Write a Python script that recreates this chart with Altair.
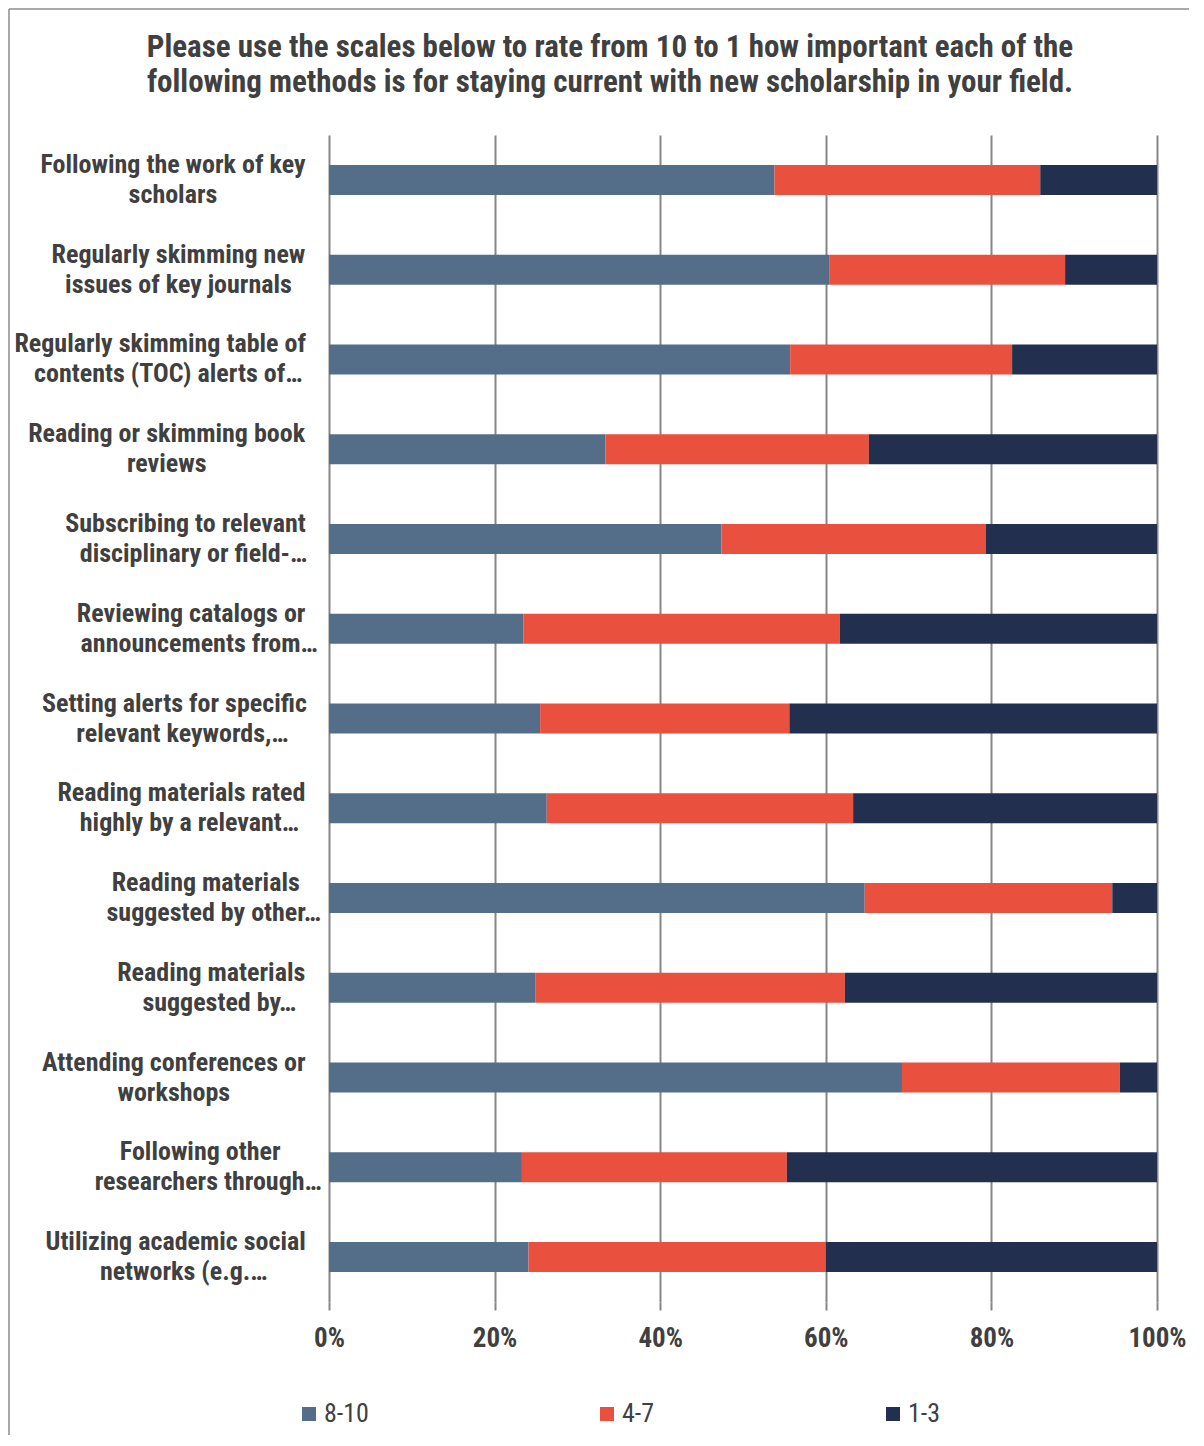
import altair as alt
import pandas as pd

categories = [
    "Following the work of key|scholars",
    "Regularly skimming new|issues of key journals",
    "Regularly skimming table of|contents (TOC) alerts of…",
    "Reading or skimming book|reviews",
    "Subscribing to relevant|disciplinary or field-…",
    "Reviewing catalogs or|announcements from…",
    "Setting alerts for specific|relevant keywords,…",
    "Reading materials rated|highly by a relevant…",
    "Reading materials|suggested by other…",
    "Reading materials|suggested by…",
    "Attending conferences or|workshops",
    "Following other|researchers through…",
    "Utilizing academic social|networks (e.g.…",
]
series = ["8-10", "4-7", "1-3"]
high = [53.8, 60.4, 55.7, 33.4, 47.4, 23.5, 25.5, 26.3, 64.7, 24.9, 69.2, 23.3, 24.1]
mid = [32.1, 28.5, 26.8, 31.8, 31.9, 38.2, 30.1, 37.0, 29.9, 37.4, 26.3, 32.0, 35.9]
low = [14.1, 11.1, 17.5, 34.8, 20.7, 38.3, 44.4, 36.7, 5.4, 37.7, 4.5, 44.7, 40.0]
colors = ["#546e8a", "#e9503e", "#232f4f"]
tick_values = [0, 0.2, 0.4, 0.6, 0.8, 1.0]
title_lines = [
    "Please use the scales below to rate from 10 to 1 how important each of the",
    "following methods is for staying current with new scholarship in your field.",
]

FONT = "Roboto Condensed, Liberation Sans Narrow, Arial Narrow, DejaVu Sans Condensed, sans-serif"
TXT = "#404040"
GRID = "#868686"
BORDER = "#8c8c8c"
LABEL_SIZE = 26

# --- approximate advance widths (bold condensed face) so that the two lines of
# each category label can be centred on each other, as in the original chart
_ADV = {
    "a": 1100, "b": 1131, "c": 1060, "d": 1131, "e": 1075, "f": 715, "g": 1137,
    "h": 1117, "i": 520, "j": 510, "k": 1058, "l": 520, "m": 1767, "n": 1117,
    "o": 1145, "p": 1131, "q": 1137, "r": 712, "s": 1044, "t": 675, "u": 1117,
    "v": 1007, "w": 1497, "x": 1016, "y": 994, "z": 1007, " ": 502,
    "R": 1230, "T": 1225, "C": 1300, "O": 1370, "A": 1340, "S": 1210, "U": 1290,
    "F": 1107, "I": 560, "P": 1280, "(": 700, ")": 700, ".": 560, ",": 450,
    "-": 560, "…": 1400,
}


def text_width(s):
    return sum(_ADV.get(ch, 1100) for ch in s) / 2048 * 0.905 * LABEL_SIZE


LABEL_RIGHT = -24  # right edge of the label block, relative to the plot's left edge
ELL_W = text_width("…")

label_rows = []
for cat in categories:
    l1, l2 = cat.split("|")
    core = [ln[:-1] if ln.endswith("…") else ln for ln in (l1, l2)]
    block = max(text_width(c) for c in core)
    centre = LABEL_RIGHT - block / 2
    cx = [centre + (ELL_W / 2 if ln.endswith("…") else 0) for ln in (l1, l2)]
    label_rows.append({"category": cat, "line1": l1, "line2": l2, "cx1": cx[0], "cx2": cx[1]})
labels_df = pd.DataFrame(label_rows)

rows = []
for i, c in enumerate(categories):
    for j, (s, vals) in enumerate(zip(series, [high, mid, low])):
        rows.append({"category": c, "series": s, "order": j, "value": vals[i]})
df = pd.DataFrame(rows)

y_enc = alt.Y(
    "category:N",
    sort=categories,
    title=None,
    scale=alt.Scale(paddingInner=0, paddingOuter=0),
    axis=None,
)

bars = alt.Chart(df).mark_bar(size=30).encode(
    y=y_enc,
    x=alt.X(
        "value:Q",
        stack="normalize",
        title=None,
        scale=alt.Scale(domain=[0, 1], nice=False),
        axis=alt.Axis(
            values=tick_values,
            format=".0%",
            labelFont=FONT,
            labelFontSize=27,
            labelFontWeight="bold",
            labelColor=TXT,
            labelPadding=15,
            labelFlush=False,
            tickSize=8,
            tickColor=GRID,
            tickWidth=2,
            grid=True,
            gridColor=GRID,
            gridWidth=2,
            domain=False,
        ),
    ),
    color=alt.Color(
        "series:N",
        scale=alt.Scale(domain=series, range=colors),
        legend=alt.Legend(
            title=None,
            orient="none",
            direction="horizontal",
            legendX=-33,
            legendY=1266,
            symbolType="square",
            symbolSize=196,
            symbolStrokeWidth=0,
            labelFont=FONT,
            labelFontSize=26,
            labelColor=TXT,
            labelOffset=2,
            columnPadding=225,
            padding=0,
        ),
    ),
    order=alt.Order("order:Q"),
)

label_style = dict(
    font=FONT, fontSize=LABEL_SIZE, fontWeight="bold", color=TXT,
    align="center", baseline="middle",
)
label1 = alt.Chart(labels_df).mark_text(dy=-15, **label_style).encode(
    y=y_enc, x=alt.X("cx1:Q", scale=None, axis=None), text="line1:N"
)
label2 = alt.Chart(labels_df).mark_text(dy=15, **label_style).encode(
    y=y_enc, x=alt.X("cx2:Q", scale=None, axis=None), text="line2:N"
)

frame_df = pd.DataFrame({"k": [0]})
top_line = alt.Chart(frame_df).mark_rule(stroke=BORDER, strokeWidth=1.5).encode(
    x=alt.value(-320), x2=alt.value(860), y=alt.value(-126)
)
left_line = alt.Chart(frame_df).mark_rule(stroke=BORDER, strokeWidth=1.5).encode(
    x=alt.value(-320), y=alt.value(-126), y2=alt.value(1300)
)
title = alt.Chart(frame_df).mark_text(
    text=title_lines,
    font=FONT,
    fontSize=31,
    fontWeight="bold",
    color=TXT,
    lineHeight=35,
    align="center",
    baseline="middle",
).encode(x=alt.value(281), y=alt.value(-87))

chart = (
    alt.layer(top_line, left_line, title, bars, label1, label2)
    .resolve_scale(x="independent")
    .properties(
        width=828,
        height=1167,
        padding={"left": 0, "top": 0, "right": 0, "bottom": 0},
    )
    .configure_view(stroke=None)
)

chart.save("out.html", embed_options={"renderer": "svg", "actions": False})
